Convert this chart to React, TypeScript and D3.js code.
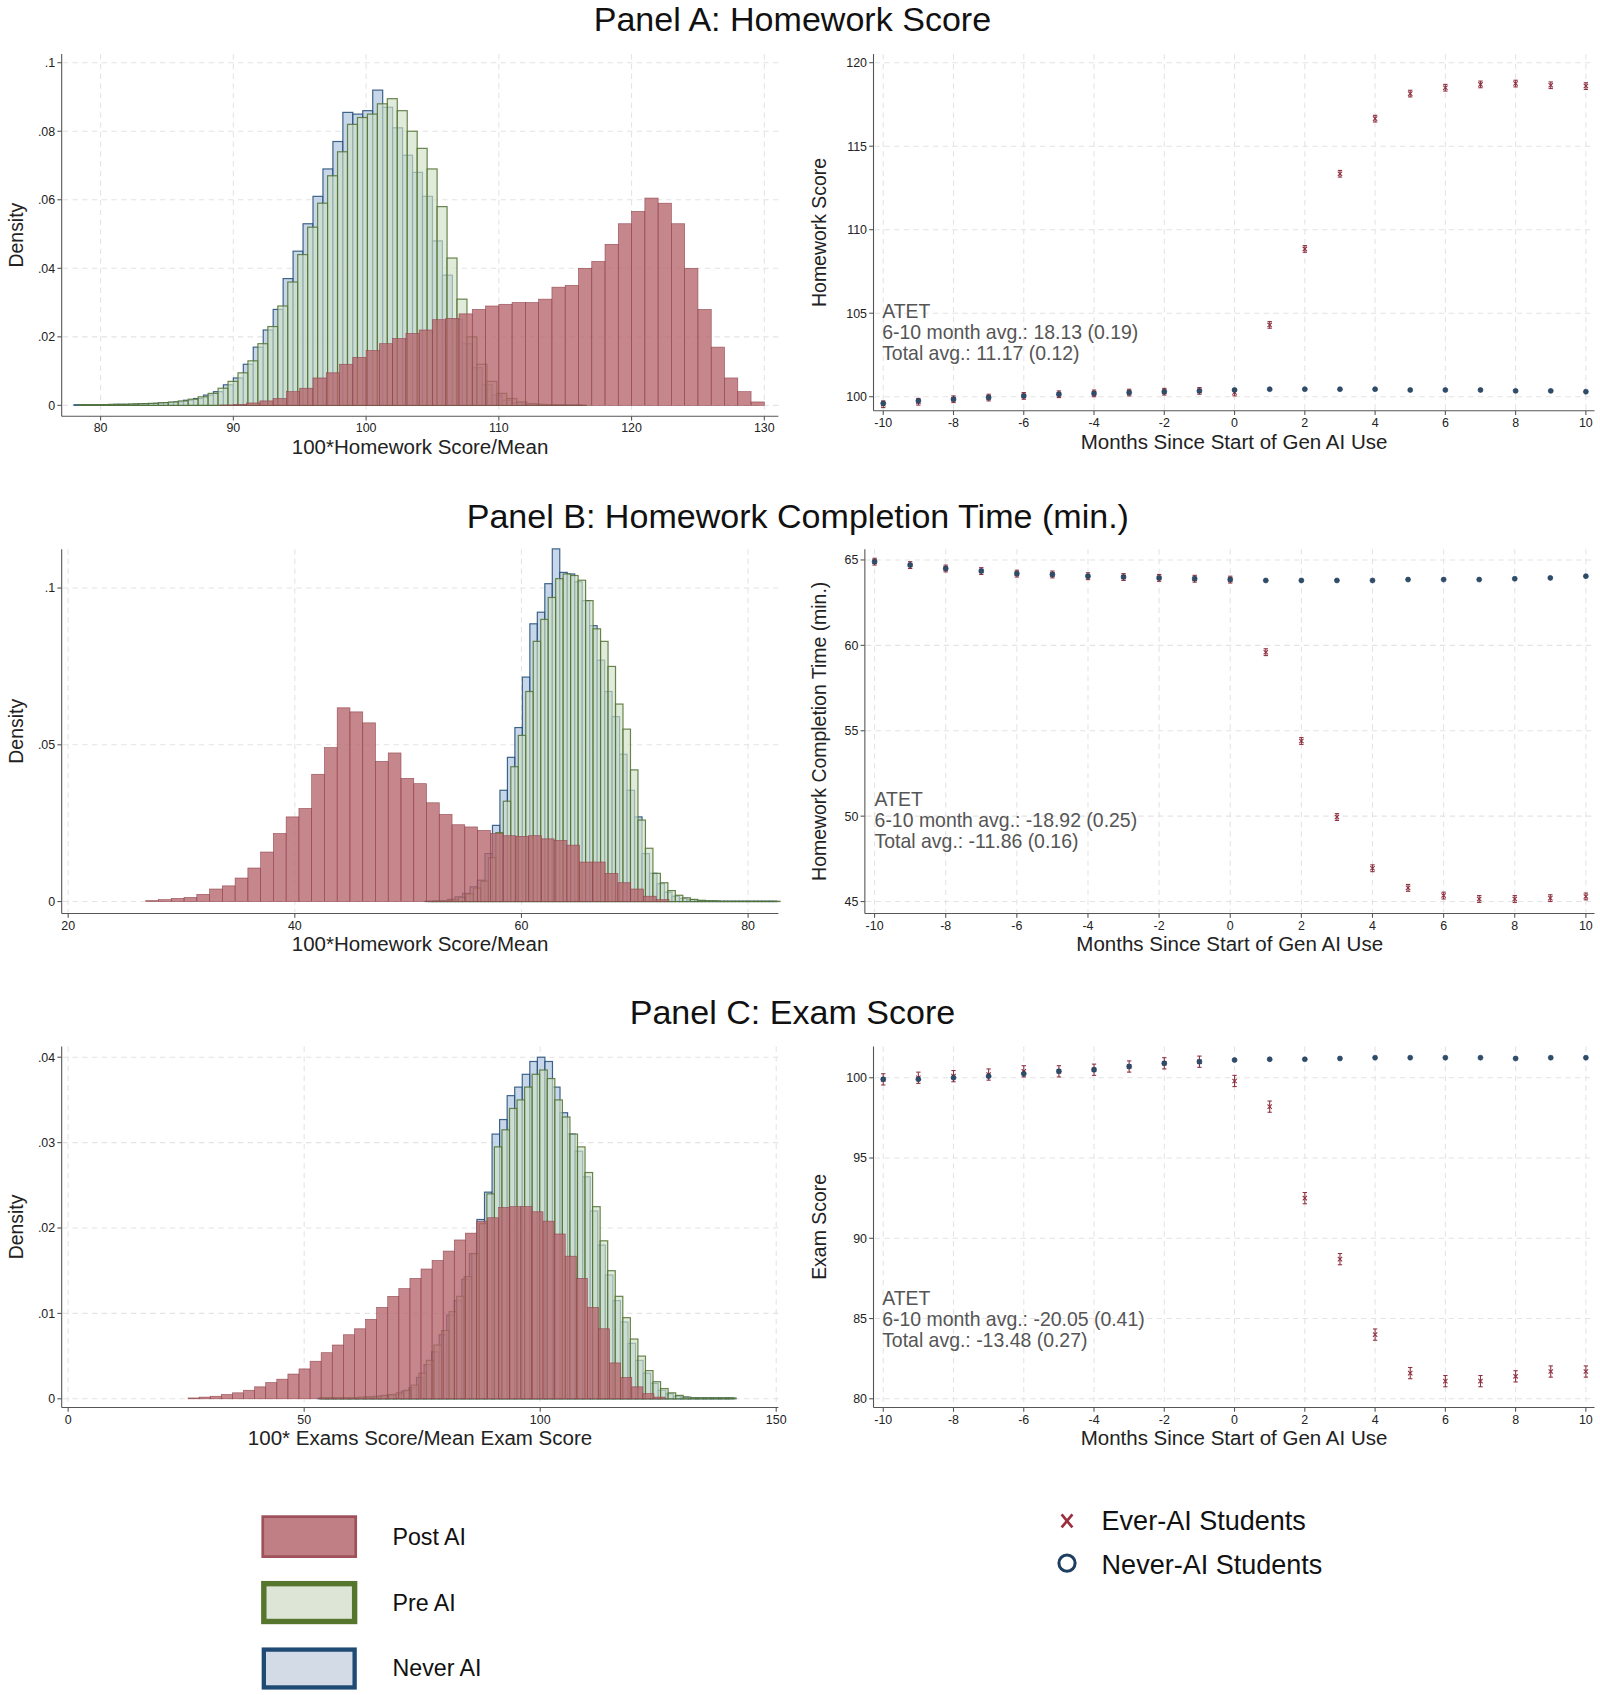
import * as d3 from "d3";

// ---------- histogram data (density per bin) ----------
// Panel A: homework score
const aPostStart = 89, aPostW = 1.0;
const aPost = [0.0001, 0.0003, 0.0007, 0.0013, 0.002, 0.004, 0.005, 0.008, 0.0095, 0.012, 0.014, 0.016, 0.018, 0.0195, 0.021, 0.022, 0.025, 0.0254, 0.0267, 0.028, 0.029, 0.0295, 0.030, 0.030, 0.031, 0.0345, 0.035, 0.040, 0.042, 0.047, 0.053, 0.0566, 0.0605, 0.059, 0.053, 0.040, 0.028, 0.017, 0.008, 0.004, 0.001];
const aNeverStart = 78, aNeverW = 0.75;
const aNever = [0.0002, 0.0002, 0.0002, 0.0002, 0.0003, 0.0003, 0.0004, 0.0005, 0.0006, 0.0008, 0.001, 0.0015, 0.002, 0.003, 0.004, 0.006, 0.008, 0.012, 0.017, 0.022, 0.028, 0.037, 0.045, 0.053, 0.061, 0.069, 0.077, 0.0855, 0.085, 0.086, 0.092, 0.087, 0.081, 0.073, 0.068, 0.061, 0.048, 0.038, 0.025, 0.018, 0.011, 0.006, 0.003, 0.0015, 0.0008, 0.0004, 0.0003, 0.0002, 0.0002, 0.0001, 0.0001];
const aPreStart = 78.35, aPreW = 0.75;
const aPre = [0.0002, 0.0002, 0.0002, 0.0003, 0.0003, 0.0004, 0.0005, 0.0006, 0.0008, 0.001, 0.0013, 0.0018, 0.0025, 0.0035, 0.005, 0.007, 0.0095, 0.013, 0.018, 0.023, 0.029, 0.036, 0.044, 0.052, 0.059, 0.067, 0.074, 0.082, 0.084, 0.085, 0.088, 0.0895, 0.086, 0.080, 0.075, 0.069, 0.058, 0.043, 0.031, 0.020, 0.012, 0.007, 0.0035, 0.002, 0.001, 0.0005, 0.0003, 0.0002, 0.0002, 0.0001, 0.0001];

// Panel B: homework completion time
const bPostStart = 26.85, bPostW = 1.126;
const bPost = [0.0003, 0.0006, 0.001, 0.0013, 0.0023, 0.004, 0.005, 0.0075, 0.0107, 0.0158, 0.0217, 0.027, 0.0297, 0.0406, 0.0491, 0.0618, 0.0605, 0.057, 0.0447, 0.0474, 0.0393, 0.0376, 0.0315, 0.0278, 0.0245, 0.0238, 0.0227, 0.0217, 0.021, 0.0208, 0.021, 0.020, 0.0195, 0.018, 0.0126, 0.0126, 0.009, 0.006, 0.004, 0.0017, 0.0006];
const bNeverStart = 51.5, bNeverW = 0.66;
const bNever = [0.0001, 0.0002, 0.0003, 0.0007, 0.0015, 0.0026, 0.0047, 0.0068, 0.0153, 0.0243, 0.0355, 0.046, 0.0555, 0.0716, 0.0886, 0.0923, 0.1014, 0.1125, 0.105, 0.1045, 0.102, 0.096, 0.088, 0.077, 0.067, 0.059, 0.047, 0.0355, 0.027, 0.0153, 0.009, 0.0057, 0.003, 0.0017, 0.001, 0.0006, 0.0003, 0.0002, 0.0002, 0.0001, 0.0001, 0.0001, 0.0001, 0.0001, 0.0001, 0.0001, 0.0001];
const bPreStart = 51.8, bPreW = 0.66;
const bPre = [0.0001, 0.0002, 0.0003, 0.0006, 0.0013, 0.0024, 0.0043, 0.0065, 0.014, 0.022, 0.032, 0.043, 0.053, 0.067, 0.083, 0.090, 0.097, 0.103, 0.1045, 0.104, 0.1025, 0.096, 0.087, 0.083, 0.075, 0.063, 0.055, 0.042, 0.026, 0.017, 0.009, 0.006, 0.0035, 0.002, 0.0012, 0.0007, 0.0004, 0.0002, 0.0002, 0.0001, 0.0001, 0.0001, 0.0001, 0.0001, 0.0001, 0.0001, 0.0001];

// Panel C: exam score
const cPostStart = 25.4, cPostW = 2.35;
const cPost = [0.0001, 0.0002, 0.0003, 0.0005, 0.0007, 0.001, 0.0014, 0.0019, 0.0023, 0.0029, 0.0035, 0.0044, 0.0054, 0.0063, 0.0075, 0.0082, 0.0093, 0.0107, 0.012, 0.0129, 0.0141, 0.0152, 0.0162, 0.0173, 0.0186, 0.0194, 0.0208, 0.0212, 0.0224, 0.0225, 0.0225, 0.0219, 0.0208, 0.0193, 0.0167, 0.0141, 0.0107, 0.0082, 0.0042, 0.0025, 0.0014, 0.0006, 0.0002];
const cNeverStart = 53, cNeverW = 1.6;
const cNever = [0.0001, 0.0001, 0.0001, 0.0001, 0.0001, 0.0001, 0.0002, 0.0002, 0.0003, 0.0004, 0.0005, 0.0009, 0.0013, 0.0025, 0.004, 0.0055, 0.0075, 0.0098, 0.0115, 0.014, 0.017, 0.021, 0.0242, 0.031, 0.0327, 0.0355, 0.0365, 0.038, 0.0395, 0.040, 0.0395, 0.0365, 0.0335, 0.031, 0.029, 0.026, 0.022, 0.018, 0.0145, 0.0115, 0.009, 0.0065, 0.0045, 0.003, 0.0018, 0.001, 0.0006, 0.0003, 0.0002, 0.0001, 0.0001, 0.0001, 0.0001, 0.0001, 0.0001];
const cPreStart = 53.5, cPreW = 1.6;
const cPre = [0.0001, 0.0001, 0.0001, 0.0001, 0.0001, 0.0002, 0.0002, 0.0003, 0.0004, 0.0005, 0.0007, 0.001, 0.0016, 0.003, 0.0045, 0.0063, 0.008, 0.0102, 0.012, 0.0143, 0.017, 0.0205, 0.024, 0.0295, 0.0315, 0.034, 0.035, 0.0365, 0.038, 0.0385, 0.0375, 0.035, 0.033, 0.031, 0.0295, 0.0265, 0.0225, 0.0185, 0.015, 0.012, 0.0095, 0.007, 0.005, 0.0033, 0.002, 0.0012, 0.0007, 0.0004, 0.0002, 0.0001, 0.0001, 0.0001, 0.0001, 0.0001, 0.0001];

// ---------- event study data ----------
const months = [-10, -9, -8, -7, -6, -5, -4, -3, -2, -1, 0, 1, 2, 3, 4, 5, 6, 7, 8, 9, 10];
const aNeverAI = [99.6, 99.75, 99.85, 99.95, 100.05, 100.15, 100.2, 100.25, 100.3, 100.35, 100.4, 100.45, 100.45, 100.45, 100.45, 100.4, 100.4, 100.4, 100.35, 100.35, 100.3];
const aEverAI = [99.55, 99.7, 99.85, 99.95, 100.05, 100.15, 100.2, 100.25, 100.3, 100.35, 100.25, 104.3, 108.85, 113.35, 116.65, 118.15, 118.5, 118.7, 118.75, 118.65, 118.6];
const bNeverAI = [64.9, 64.7, 64.5, 64.35, 64.2, 64.15, 64.05, 64.0, 63.95, 63.9, 63.85, 63.8, 63.8, 63.8, 63.8, 63.85, 63.85, 63.85, 63.9, 63.95, 64.05];
const bEverAI = [64.9, 64.7, 64.5, 64.35, 64.2, 64.15, 64.05, 64.0, 63.95, 63.9, 63.85, 59.6, 54.4, 49.95, 46.95, 45.8, 45.35, 45.15, 45.15, 45.2, 45.3];
const cNeverAI = [99.9, 99.9, 100.0, 100.1, 100.25, 100.4, 100.5, 100.7, 100.9, 101.0, 101.1, 101.15, 101.15, 101.2, 101.25, 101.25, 101.25, 101.25, 101.2, 101.25, 101.25];
const cEverAI = [99.9, 100.0, 100.1, 100.2, 100.4, 100.4, 100.5, 100.7, 100.9, 101.0, 99.8, 98.2, 92.5, 88.7, 84.0, 81.6, 81.1, 81.1, 81.4, 81.7, 81.7];
const aCI = 0.2, bCI = 0.2, cCI = 0.35;

const RED = "#b5646b", RED_EDGE = "#8e3f48";
const GREEN_FILL = "#cfe0c4", GREEN_EDGE = "#4f7030";
const BLUE_FILL = "#b9cde3", BLUE_EDGE = "#1f4a75";
const FONT = "'Liberation Sans', Arial, sans-serif";
const NARROW = "'Liberation Sans Narrow', 'Liberation Sans', sans-serif";

type Frame = { x0: number; x1: number; y0: number; y1: number };

function bins(start: number, w: number, vals: number[]) {
  return vals.map((v, i) => ({ a: start + i * w, b: start + (i + 1) * w, v }));
}

function Grid({ f, xt, yt, x, y }: any) {
  return (
    <g stroke="#e4e4e4" strokeDasharray="5,4" strokeWidth={1}>
      {xt.map((t: number) => <line key={"x" + t} x1={x(t)} x2={x(t)} y1={f.y0} y2={f.y1 - 1} />)}
      {yt.map((t: number) => <line key={"y" + t} x1={f.x0 + 1} x2={f.x1} y1={y(t)} y2={y(t)} />)}
    </g>
  );
}

function Axes({ f, xt, yt, x, y, fmtY, fmtX, xTitle, yTitle, yTitleX }: any) {
  return (
    <g fontFamily={NARROW} fontSize={11.5} fill="#222">
      <line x1={f.x0} x2={f.x0} y1={f.y0} y2={f.y1} stroke="#555" />
      <line x1={f.x0} x2={f.x1} y1={f.y1} y2={f.y1} stroke="#555" />
      {yt.map((t: number) => (
        <g key={"yt" + t}>
          <line x1={f.x0 - 4} x2={f.x0} y1={y(t)} y2={y(t)} stroke="#555" />
          <text x={f.x0 - 6} y={y(t)} dy="0.35em" textAnchor="end">{fmtY(t)}</text>
        </g>
      ))}
      {xt.map((t: number) => (
        <g key={"xt" + t}>
          <line x1={x(t)} x2={x(t)} y1={f.y1} y2={f.y1 + 4} stroke="#555" />
          <text x={x(t)} y={f.y1 + 15} textAnchor="middle">{fmtX(t)}</text>
        </g>
      ))}
      <text x={(f.x0 + f.x1) / 2} y={f.y1 + 35} textAnchor="middle" fontFamily={FONT} fontSize={19}>{xTitle}</text>
      <text transform={`translate(${yTitleX},${(f.y0 + f.y1) / 2}) rotate(-90)`} textAnchor="middle" fontFamily={FONT} fontSize={18}>{yTitle}</text>
    </g>
  );
}

const fmtDensity = (t: number) => (t === 0 ? "0" : String(+t.toFixed(3)).replace(/^0/, ""));

function Hist({ f, xDom, xRng, yDom, yRng, xt, yt, post, pre, never, xTitle }: any) {
  const x = d3.scaleLinear().domain(xDom).range(xRng);
  const y = d3.scaleLinear().domain(yDom).range(yRng);
  const draw = (data: any[], fill: string, stroke: string, op: number, sw: number) =>
    data.map((d, i) => (
      <rect key={i} x={x(d.a)} width={x(d.b) - x(d.a)} y={y(d.v)} height={y(0) - y(d.v)}
        fill={fill} fillOpacity={op} stroke={stroke} strokeWidth={sw} strokeOpacity={0.85} />
    ));
  return (
    <g>
      <Grid f={f} xt={xt} yt={yt} x={x} y={y} />
      <g>{draw(never, BLUE_FILL, BLUE_EDGE, 0.8, 1.1)}</g>
      <g>{draw(pre, GREEN_FILL, GREEN_EDGE, 0.65, 1.1)}</g>
      <g>{draw(post, RED, RED_EDGE, 0.78, 0.6)}</g>
      <Axes f={f} xt={xt} yt={yt} x={x} y={y} fmtY={fmtDensity} fmtX={(t: number) => String(t)}
        xTitle={xTitle} yTitle="Density" yTitleX={21} />
    </g>
  );
}

function Event({ f, xRng, yDom, yRng, yt, ever, never, ci, yTitle }: any) {
  const x = d3.scaleLinear().domain([-10, 10]).range(xRng);
  const y = d3.scaleLinear().domain(yDom).range(yRng);
  const xt = d3.range(-10, 11, 2);
  return (
    <g>
      <Grid f={f} xt={xt} yt={yt} x={x} y={y} />
      {months.map((m, i) => (
        <g key={"e" + m} stroke="#8e3140" strokeWidth={1}>
          <line x1={x(m)} x2={x(m)} y1={y(ever[i] - ci)} y2={y(ever[i] + ci)} />
          <line x1={x(m) - 2} x2={x(m) + 2} y1={y(ever[i] - ci)} y2={y(ever[i] - ci)} />
          <line x1={x(m) - 2} x2={x(m) + 2} y1={y(ever[i] + ci)} y2={y(ever[i] + ci)} />
          <path d={`M${x(m) - 2},${y(ever[i]) - 2}L${x(m) + 2},${y(ever[i]) + 2}M${x(m) - 2},${y(ever[i]) + 2}L${x(m) + 2},${y(ever[i]) - 2}`} />
        </g>
      ))}
      {months.map((m, i) => (
        <circle key={"n" + m} cx={x(m)} cy={y(never[i])} r={2.3} fill="#2d4d6b" stroke="#1f3a56" strokeWidth={0.6} />
      ))}
      <Axes f={f} xt={xt} yt={yt} x={x} y={y} fmtY={(t: number) => String(t)} fmtX={(t: number) => String(t)}
        xTitle="Months Since Start of Gen AI Use" yTitle={yTitle} yTitleX={764} />
    </g>
  );
}

function Atet({ x, y, lines }: { x: number; y: number; lines: string[] }) {
  return (
    <g fontFamily={FONT} fontSize={18} fill="#555">
      {lines.map((s, i) => <text key={i} x={x} y={y + i * 19.5} dy="0.35em">{s}</text>)}
    </g>
  );
}

export default function App() {
  const lf = (y0: number, y1: number): Frame => ({ x0: 57, x1: 720, y0, y1 });
  return (
    <svg width={1600} height={1695} viewBox="0 0 1480 1568" style={{ position: "absolute", left: 0, top: 0, background: "#fff" }}>
      <rect width={1480} height={1568} fill="#fff" />
      <g fontFamily={FONT} fontSize={31.5} textAnchor="middle" fill="#111">
        <text x={733} y={18} dy="0.35em">Panel A: Homework Score</text>
        <text x={738} y={477} dy="0.35em">Panel B: Homework Completion Time (min.)</text>
        <text x={733} y={936} dy="0.35em">Panel C: Exam Score</text>
      </g>

      <Hist f={lf(50, 385)} xDom={[80, 130]} xRng={[93, 707]} yDom={[0, 0.1]} yRng={[375, 58]}
        xt={[80, 90, 100, 110, 120, 130]} yt={[0, 0.02, 0.04, 0.06, 0.08, 0.1]}
        post={bins(aPostStart, aPostW, aPost)} pre={bins(aPreStart, aPreW, aPre)} never={bins(aNeverStart, aNeverW, aNever)}
        xTitle="100*Homework Score/Mean" />
      <Hist f={lf(508, 845)} xDom={[20, 80]} xRng={[63, 692]} yDom={[0, 0.1]} yRng={[834, 544]}
        xt={[20, 40, 60, 80]} yt={[0, 0.05, 0.1]}
        post={bins(bPostStart, bPostW, bPost)} pre={bins(bPreStart, bPreW, bPre)} never={bins(bNeverStart, bNeverW, bNever)}
        xTitle="100*Homework Score/Mean" />
      <Hist f={lf(968, 1302)} xDom={[0, 150]} xRng={[63, 718]} yDom={[0, 0.04]} yRng={[1294, 978]}
        xt={[0, 50, 100, 150]} yt={[0, 0.01, 0.02, 0.03, 0.04]}
        post={bins(cPostStart, cPostW, cPost)} pre={bins(cPreStart, cPreW, cPre)} never={bins(cNeverStart, cNeverW, cNever)}
        xTitle="100* Exams Score/Mean Exam Score" />

      <Event f={{ x0: 808, x1: 1475, y0: 50, y1: 380 }} xRng={[817, 1467]} yDom={[100, 120]} yRng={[367, 58]}
        yt={[100, 105, 110, 115, 120]} ever={aEverAI} never={aNeverAI} ci={aCI} yTitle="Homework Score" />
      <Atet x={816} y={288} lines={["ATET", "6-10 month avg.: 18.13 (0.19)", "Total avg.: 11.17 (0.12)"]} />

      <Event f={{ x0: 800, x1: 1475, y0: 508, y1: 845 }} xRng={[809, 1467]} yDom={[45, 65]} yRng={[834, 518]}
        yt={[45, 50, 55, 60, 65]} ever={bEverAI} never={bNeverAI} ci={bCI} yTitle="Homework Completion Time (min.)" />
      <Atet x={809} y={739} lines={["ATET", "6-10 month avg.: -18.92 (0.25)", "Total avg.: -11.86 (0.16)"]} />

      <Event f={{ x0: 808, x1: 1475, y0: 968, y1: 1302 }} xRng={[817, 1467]} yDom={[80, 100]} yRng={[1294, 997]}
        yt={[80, 85, 90, 95, 100]} ever={cEverAI} never={cNeverAI} ci={cCI} yTitle="Exam Score" />
      <Atet x={816} y={1201} lines={["ATET", "6-10 month avg.: -20.05 (0.41)", "Total avg.: -13.48 (0.27)"]} />

      {/* legends */}
      <g fontFamily={FONT} fontSize={21.5} fill="#111">
        <rect x={243} y={1403} width={86} height={37} fill="#bf7f84" stroke="#a0505a" strokeWidth={2.5} />
        <text x={363} y={1422} dy="0.35em">Post AI</text>
        <rect x={244} y={1465} width={84} height={35} fill="#dde5d6" stroke="#56762e" strokeWidth={5} />
        <text x={363} y={1483} dy="0.35em">Pre AI</text>
        <rect x={244} y={1526} width={84} height={35} fill="#d3dce6" stroke="#1e4a73" strokeWidth={4} />
        <text x={363} y={1543} dy="0.35em">Never AI</text>
        <path d="M982,1401L992,1413M982,1413L992,1401" stroke="#9b2f3d" strokeWidth={2.5} />
        <text x={1019} y={1407} dy="0.35em" fontSize={25}>Ever-AI Students</text>
        <circle cx={987} cy={1446} r={7.5} fill="none" stroke="#1e3f60" strokeWidth={2.8} />
        <text x={1019} y={1447} dy="0.35em" fontSize={25}>Never-AI Students</text>
      </g>
    </svg>
  );
}
